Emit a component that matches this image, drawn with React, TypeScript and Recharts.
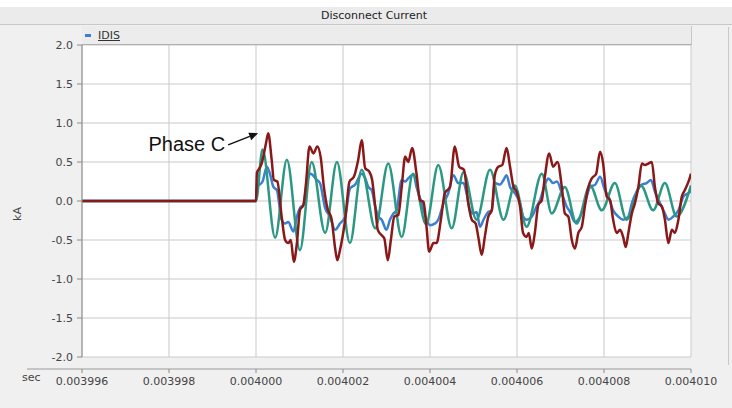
import React from 'react';
import { LineChart, Line, XAxis, YAxis, CartesianGrid, Legend, ReferenceLine } from 'recharts';

// time in microseconds, value in kA
const X_TICKS = [3996, 3998, 4000, 4002, 4004, 4006, 4008, 4010];
const Y_TICKS = [-2, -1.5, -1, -0.5, 0, 0.5, 1, 1.5, 2];

const IDIS_BLUE: [number, number][] = [
  [3996, 0], [4000, 0], [4000.02, 0.2], [4000.08, 0.21], [4000.15, 0.25], [4000.25, 0.44], [4000.32, 0.35],
  [4000.4, 0.18], [4000.48, 0.14], [4000.59, -0.24], [4000.67, -0.29], [4000.74, -0.27], [4000.86, -0.39],
  [4000.94, -0.2], [4001.01, -0.09], [4001.09, -0.05], [4001.17, 0.23], [4001.26, 0.35], [4001.38, 0.28],
  [4001.47, 0.23], [4001.59, -0.09], [4001.7, -0.2], [4001.82, -0.37], [4001.93, -0.29], [4002.05, -0.2],
  [4002.16, 0.16], [4002.28, 0.21], [4002.43, 0.35], [4002.51, 0.29], [4002.58, 0.18], [4002.66, 0.14],
  [4002.74, -0.07], [4002.81, -0.2], [4002.89, -0.24], [4003.0, -0.37], [4003.08, -0.24], [4003.16, -0.16],
  [4003.23, -0.12], [4003.35, 0.27], [4003.43, 0.25], [4003.5, 0.29], [4003.62, 0.34], [4003.69, 0.18],
  [4003.81, -0.03], [4003.92, -0.24], [4004.0, -0.31], [4004.11, -0.29], [4004.19, -0.24], [4004.31, -0.03],
  [4004.42, 0.1], [4004.54, 0.33], [4004.65, 0.23], [4004.77, 0.23], [4004.84, 0.1], [4004.92, -0.12],
  [4005.0, -0.16], [4005.07, -0.14], [4005.15, -0.33], [4005.23, -0.24], [4005.34, -0.14], [4005.42, -0.12],
  [4005.49, 0.23], [4005.61, 0.21], [4005.69, 0.27], [4005.76, 0.33], [4005.84, 0.18], [4005.95, 0.1],
  [4006.07, -0.03], [4006.14, -0.2], [4006.22, -0.24], [4006.34, -0.2], [4006.45, -0.07], [4006.53, 0.01],
  [4006.64, 0.21], [4006.72, 0.29], [4006.83, 0.23], [4006.92, 0.25], [4007.03, 0.1], [4007.14, -0.07],
  [4007.22, -0.14], [4007.33, -0.27], [4007.45, -0.2], [4007.56, -0.03], [4007.68, 0.18], [4007.8, 0.21],
  [4007.91, 0.31], [4008.02, 0.14], [4008.1, 0.06], [4008.21, -0.12], [4008.33, -0.2], [4008.44, -0.24],
  [4008.56, -0.2], [4008.64, -0.03], [4008.75, 0.12], [4008.87, 0.21], [4008.98, 0.23], [4009.08, 0.27],
  [4009.17, 0.12], [4009.29, -0.03], [4009.4, -0.16], [4009.48, -0.24], [4009.59, -0.2], [4009.71, -0.12],
  [4009.83, 0.06], [4009.98, 0.12], [4010, 0.15],
];

const TEAL_PHASE: [number, number][] = [
  [3996, 0], [4000, 0], [4000.15, 0.66], [4000.44, -0.47], [4000.71, 0.53], [4001.01, -0.63], [4001.28, 0.5],
  [4001.59, -0.41], [4001.86, 0.5], [4002.16, -0.54], [4002.43, 0.4], [4002.74, -0.35], [4003.04, 0.48],
  [4003.35, -0.46], [4003.61, 0.35], [4003.91, -0.3], [4004.19, 0.46], [4004.5, -0.35], [4004.77, 0.37],
  [4005.07, -0.24], [4005.38, 0.4], [4005.69, -0.24], [4005.95, 0.2], [4006.22, -0.33], [4006.57, 0.35],
  [4006.8, -0.16], [4007.1, 0.18], [4007.37, -0.29], [4007.68, 0.2], [4007.95, -0.12], [4008.25, 0.23],
  [4008.52, -0.24], [4008.85, 0.2], [4009.13, -0.12], [4009.4, 0.23], [4009.67, -0.2], [4010, 0.2],
];

const PHASE_C_RED: [number, number][] = [
  [3996, 0], [4000, 0], [4000.02, 0.36], [4000.08, 0.42], [4000.13, 0.48], [4000.23, 0.74], [4000.28, 0.87],
  [4000.36, 0.53], [4000.41, 0.27], [4000.49, 0.25], [4000.59, -0.2], [4000.67, -0.5], [4000.74, -0.54],
  [4000.8, -0.5], [4000.87, -0.78], [4000.94, -0.54], [4001.01, -0.12], [4001.09, -0.05], [4001.15, 0.23],
  [4001.23, 0.7], [4001.32, 0.61], [4001.41, 0.7], [4001.49, 0.55], [4001.56, 0.18], [4001.64, -0.09],
  [4001.74, -0.24], [4001.82, -0.61], [4001.87, -0.76], [4001.93, -0.63], [4002.05, -0.24], [4002.15, 0.25],
  [4002.25, 0.31], [4002.35, 0.53], [4002.43, 0.78], [4002.51, 0.42], [4002.6, 0.38], [4002.67, 0.27],
  [4002.74, -0.07], [4002.8, -0.37], [4002.89, -0.44], [4002.95, -0.48], [4003.03, -0.76], [4003.1, -0.5],
  [4003.18, -0.2], [4003.27, -0.18], [4003.35, 0.18], [4003.43, 0.57], [4003.5, 0.5], [4003.59, 0.68],
  [4003.69, 0.35], [4003.77, 0.01], [4003.85, -0.01], [4003.92, -0.33], [4003.98, -0.65], [4004.08, -0.54],
  [4004.15, -0.54], [4004.25, -0.24], [4004.34, 0.1], [4004.46, 0.18], [4004.57, 0.7], [4004.67, 0.44],
  [4004.78, 0.4], [4004.88, -0.03], [4004.96, -0.24], [4005.05, -0.29], [4005.11, -0.46], [4005.19, -0.69],
  [4005.26, -0.46], [4005.34, -0.2], [4005.42, -0.12], [4005.49, 0.33], [4005.57, 0.44], [4005.66, 0.46],
  [4005.76, 0.68], [4005.84, 0.44], [4005.92, 0.18], [4005.99, 0.12], [4006.07, -0.07], [4006.14, -0.41],
  [4006.22, -0.46], [4006.27, -0.41], [4006.34, -0.61], [4006.41, -0.41], [4006.49, -0.05], [4006.57, 0.01],
  [4006.64, 0.31], [4006.74, 0.61], [4006.83, 0.44], [4006.93, 0.5], [4007.03, 0.18], [4007.1, -0.16],
  [4007.18, -0.2], [4007.26, -0.5], [4007.33, -0.61], [4007.41, -0.41], [4007.49, -0.33], [4007.56, -0.07],
  [4007.64, 0.18], [4007.72, 0.29], [4007.82, 0.35], [4007.91, 0.63], [4007.98, 0.48], [4008.06, 0.06],
  [4008.14, 0.01], [4008.21, -0.24], [4008.29, -0.41], [4008.37, -0.37], [4008.44, -0.46], [4008.5, -0.59],
  [4008.56, -0.41], [4008.64, -0.16], [4008.71, -0.03], [4008.79, 0.18], [4008.87, 0.48], [4008.94, 0.46],
  [4009.02, 0.48], [4009.1, 0.5], [4009.17, 0.18], [4009.25, -0.03], [4009.33, -0.07], [4009.4, -0.24],
  [4009.48, -0.54], [4009.56, -0.37], [4009.63, -0.41], [4009.71, -0.24], [4009.79, 0.06], [4009.86, 0.14],
  [4009.98, 0.31], [4010, 0.35],
];

// annotation arrow: tail and tip in data coordinates
const ARROW: [number, number][] = [[3999.36, 0.72], [4000.05, 0.87]];

const BLUE = '#3a7fd2';
const TEAL = '#2a9882';
const RED = '#8a1818';
const FONT = '"DejaVu Sans", Verdana, sans-serif';

const rows = (pts: [number, number][]) => pts.map(([t, v]) => ({ t, v }));

const fmtX = (v: number) => (v / 1e6).toFixed(6);
const fmtY = (v: number) => v.toFixed(1);

const XTick = (props: any) => {
  const { x, y, payload } = props;
  return (
    <g>
      <line x1={x} x2={x} y1={y + 12} y2={y + 16} stroke="#888" />
      <text x={x} y={y + 28} textAnchor="middle" fontSize={11} fontFamily={FONT} fill="#444">
        {fmtX(payload.value)}
      </text>
    </g>
  );
};

const XLabel = (props: any) => {
  const vb = props.viewBox || { x: 82, y: 357, width: 609 };
  return (
    <g>
      <line x1={vb.x - 55} x2={vb.x + vb.width} y1={vb.y + 12} y2={vb.y + 12} stroke="#9a9a9a" />
      <text x={vb.x - 60} y={vb.y + 24} fontSize={11} fontFamily={FONT} fill="#444">sec</text>
    </g>
  );
};

const YLabel = (props: any) => {
  const vb = props.viewBox || { x: 22, y: 45, width: 60, height: 312 };
  const cx = vb.x - 4;
  const cy = vb.y + vb.height / 2 + 13;
  return (
    <text x={cx} y={cy} transform={`rotate(-90 ${cx} ${cy})`} textAnchor="middle" dominantBaseline="middle"
      fontSize={11} fontFamily={FONT} fill="#444">kA</text>
  );
};

const ArrowShape = (props: any) => {
  const { x1, y1, x2, y2 } = props;
  const dx = x2 - x1;
  const dy = y2 - y1;
  const len = Math.sqrt(dx * dx + dy * dy) || 1;
  const ux = dx / len;
  const uy = dy / len;
  const hl = 9;
  const hw = 4;
  const bx = x2 - ux * hl;
  const by = y2 - uy * hl;
  return (
    <g>
      <line x1={x1} y1={y1} x2={bx} y2={by} stroke="#111" strokeWidth={1.5} />
      <polygon
        points={`${x2},${y2} ${bx - uy * hw},${by + ux * hw} ${bx + uy * hw},${by - ux * hw}`}
        fill="#111"
      />
      <text x={x1 - 3} y={y1 + 6.5} textAnchor="end" fontSize={20} fontFamily='"Liberation Sans", Arial, sans-serif' fill="#111">
        Phase C
      </text>
    </g>
  );
};

const LegendContent = (props: any) => {
  const items = (props.payload || []).filter((p: any) => p.type !== 'none');
  return (
    <div style={{ display: 'flex', alignItems: 'center', height: '100%', paddingLeft: 3 }}>
      {items.map((p: any) => (
        <div key={p.value} style={{ display: 'flex', alignItems: 'center' }}>
          <span style={{ display: 'inline-block', width: 6, height: 3, background: p.color, marginRight: 7 }} />
          <span style={{ fontSize: 11, fontFamily: FONT, color: '#333', textDecoration: 'underline' }}>{p.value}</span>
        </div>
      ))}
    </div>
  );
};

export default function App() {
  return (
    <div style={{ position: 'absolute', left: 0, top: 0, width: 732, height: 408, background: '#f0f0f0', overflow: 'hidden' }}>
      <div style={{ position: 'absolute', left: 0, top: 0, width: 732, height: 7, background: '#ffffff' }} />
      <div style={{ position: 'absolute', left: 0, top: 7, width: 732, height: 18, background: '#ebebeb', borderBottom: '1px solid #c8c8c8', boxSizing: 'border-box' }}>
        <span style={{ position: 'absolute', left: 374, top: 2, transform: 'translateX(-50%)', fontSize: 11, fontFamily: FONT, color: '#222', whiteSpace: 'nowrap' }}>
          Disconnect Current
        </span>
      </div>
      <div style={{ position: 'absolute', left: 728, top: 27, width: 1, height: 338, background: '#c8c8c8' }} />
      <div style={{ position: 'absolute', left: 0, top: 0 }}>
        <LineChart width={732} height={408} margin={{ top: 45, right: 41, bottom: 11, left: 22 }}>
          <CartesianGrid stroke="#c9c9c9" fill="#ffffff" />
          <XAxis
            type="number"
            dataKey="t"
            domain={[3996, 4010]}
            ticks={X_TICKS}
            allowDataOverflow
            axisLine={false}
            tickLine={false}
            tickSize={0}
            tickMargin={0}
            height={40}
            tick={<XTick />}
            interval={0}
            label={{ content: XLabel }}
          />
          <YAxis
            type="number"
            domain={[-2, 2]}
            ticks={Y_TICKS}
            tickFormatter={fmtY}
            width={60}
            axisLine={{ stroke: '#8a8a8a' }}
            tickLine={{ stroke: '#8a8a8a' }}
            tickSize={5}
            tickMargin={4}
            interval={0}
            tick={{ fontSize: 11, fontFamily: FONT, fill: '#444' }}
            label={{ content: YLabel }}
          />
          <Legend
            layout="horizontal"
            verticalAlign="middle"
            align="center"
            content={<LegendContent />}
            wrapperStyle={{
              top: 26, left: 82, width: 610, height: 19, margin: 0, padding: 0, boxSizing: 'border-box',
              background: '#ececec', borderBottom: '1px solid #b0b0b0', borderRight: '1px solid #c8c8c8',
            }}
          />
          <Line data={rows(IDIS_BLUE)} dataKey="v" name="IDIS" type="monotone" stroke={BLUE} strokeWidth={2.5} dot={false} isAnimationActive={false} />
          <Line data={rows(TEAL_PHASE)} dataKey="v" name="Phase B" type="monotone" stroke={TEAL} strokeWidth={2.5} dot={false} legendType="none" isAnimationActive={false} />
          <Line data={rows(PHASE_C_RED)} dataKey="v" name="Phase C" type="monotone" stroke={RED} strokeWidth={2.5} dot={false} legendType="none" isAnimationActive={false} />
          <ReferenceLine
            segment={[{ x: ARROW[0][0], y: ARROW[0][1] }, { x: ARROW[1][0], y: ARROW[1][1] }]}
            ifOverflow="visible"
            shape={ArrowShape}
          />
        </LineChart>
      </div>
    </div>
  );
}
